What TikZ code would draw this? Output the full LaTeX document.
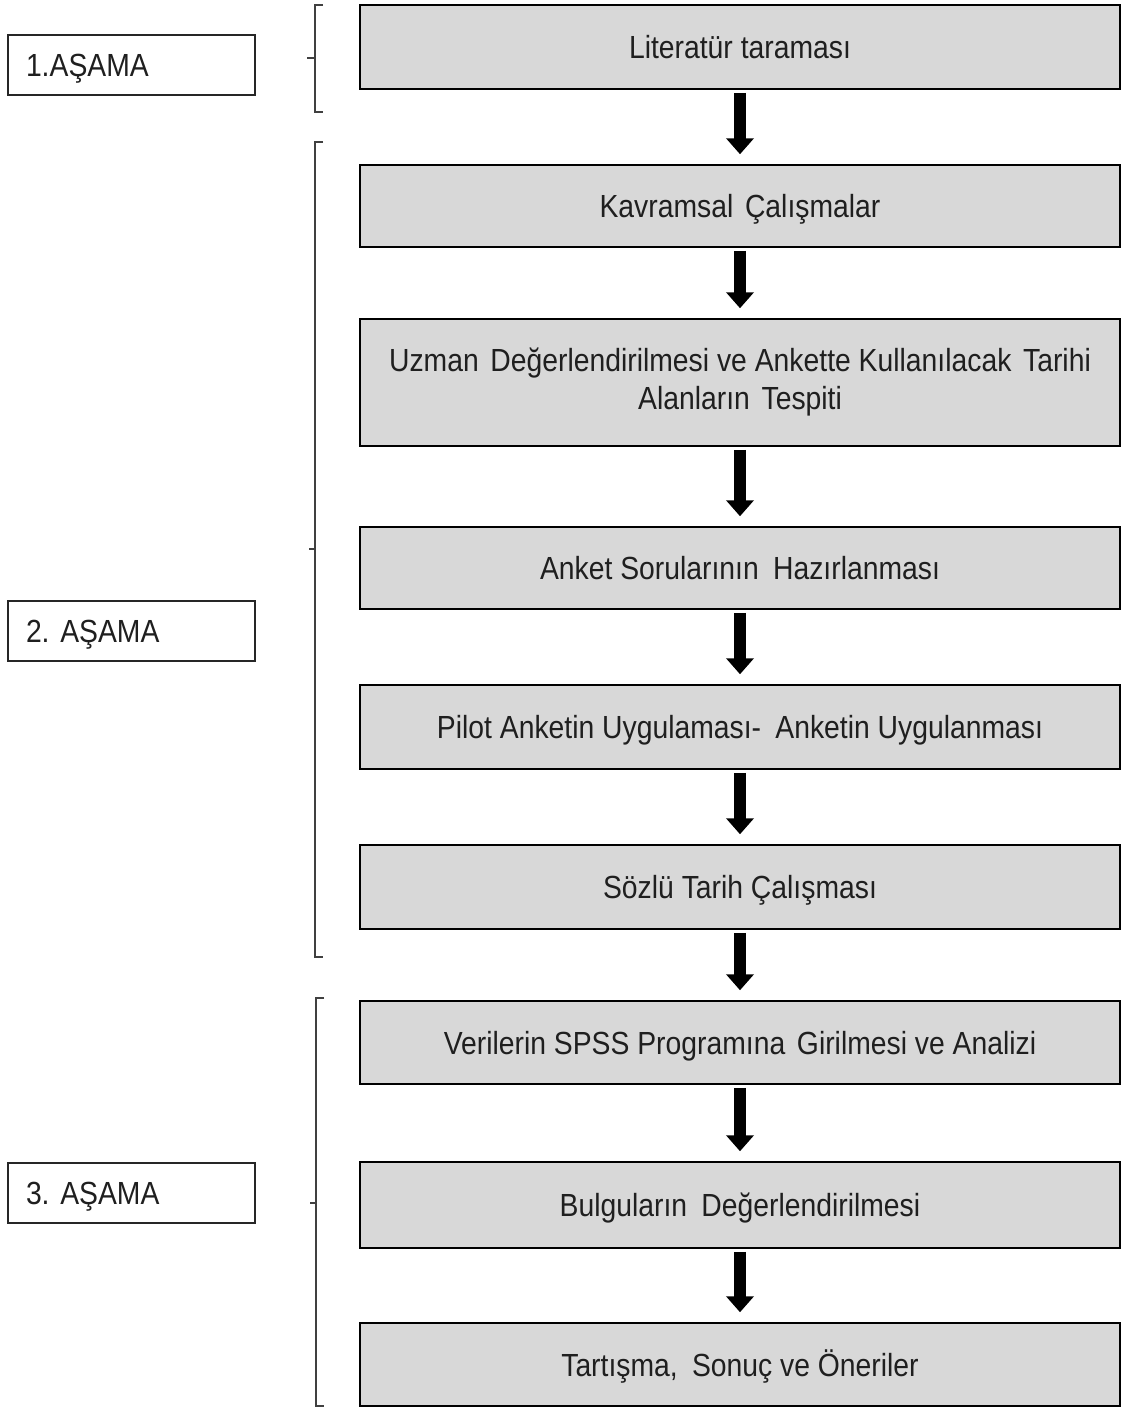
\documentclass[tikz,border=0pt]{standalone}
\usepackage{fontspec}
\setmainfont{Liberation Sans}[FakeStretch=0.885]
\usetikzlibrary{arrows.meta}
\definecolor{boxgray}{HTML}{D8D8D8}
\tikzset{
  stepbox/.style={draw=black, line width=1.5pt, fill=boxgray, minimum width=760pt, inner sep=0pt, align=center, font=\fontsize{32}{38}\selectfont, text=black!88},
  oneline/.style={text height=23pt, text depth=0pt},
  stagebox/.style={draw=black!85, line width=1.5pt, fill=white, minimum width=247pt, minimum height=60pt, text width=211pt, inner xsep=18pt, inner ysep=0pt, text height=23pt, text depth=0pt, align=left, font=\fontsize{32}{38}\selectfont, text=black!88},
  flowarrow/.style={line width=12pt, black, -{Triangle[length=16pt,width=27pt]}, shorten <=3pt, shorten >=10pt},
  bracketline/.style={line width=2pt, black!75}
}
\begin{document}
\frenchspacing
\begin{tikzpicture}[x=1pt,y=-1pt]
\useasboundingbox (0,0) rectangle (1122,1408);
\node[stepbox, oneline, minimum height=84pt] (b1) at (740,47) {Literatür taraması};
\node[stepbox, oneline, minimum height=82pt] (b2) at (740,206) {Kavramsal\hspace{0.12em} Çalışmalar};
\node[stepbox, minimum height=127pt] (b3) at (740,382.5) {Uzman\hspace{0.12em} Değerlendirilmesi ve Ankette Kullanılacak\hspace{0.12em} Tarihi\\Alanların\hspace{0.12em} Tespiti};
\node[stepbox, oneline, minimum height=82pt] (b4) at (740,568) {Anket Sorularının\hspace{0.2em} Hazırlanması};
\node[stepbox, oneline, minimum height=84pt] (b5) at (740,727) {Pilot Anketin Uygulaması-\hspace{0.2em} Anketin Uygulanması};
\node[stepbox, oneline, minimum height=84pt] (b6) at (740,887) {Sözlü Tarih Çalışması};
\node[stepbox, oneline, minimum height=83pt] (b7) at (740,1042.5) {Verilerin SPSS Programına\hspace{0.12em} Girilmesi ve Analizi};
\node[stepbox, oneline, minimum height=86pt] (b8) at (740,1205) {Bulguların\hspace{0.2em} Değerlendirilmesi};
\node[stepbox, oneline, minimum height=83pt] (b9) at (740,1364.5) {Tartışma,\hspace{0.2em} Sonuç ve Öneriler};
\foreach \a/\b in {b1/b2,b2/b3,b3/b4,b4/b5,b5/b6,b6/b7,b7/b8,b8/b9}
  \draw[flowarrow] (\a.south) -- (\b.north);
\node[stagebox] (s1) at (131.5,65) {1.AŞAMA};
\node[stagebox] (s2) at (131.5,631) {2. AŞAMA};
\node[stagebox] (s3) at (131.5,1193) {3. AŞAMA};
\draw[bracketline] (323,5) -- (315,5) -- (315,112) -- (323,112);
\draw[bracketline] (315,58) -- (307,58);
\draw[bracketline] (323,142) -- (315,142) -- (315,957) -- (323,957);
\draw[bracketline] (315,549) -- (309,549);
\draw[bracketline] (324,998) -- (316,998) -- (316,1406) -- (324,1406);
\draw[bracketline] (316,1203) -- (310,1203);
\end{tikzpicture}
\end{document}
